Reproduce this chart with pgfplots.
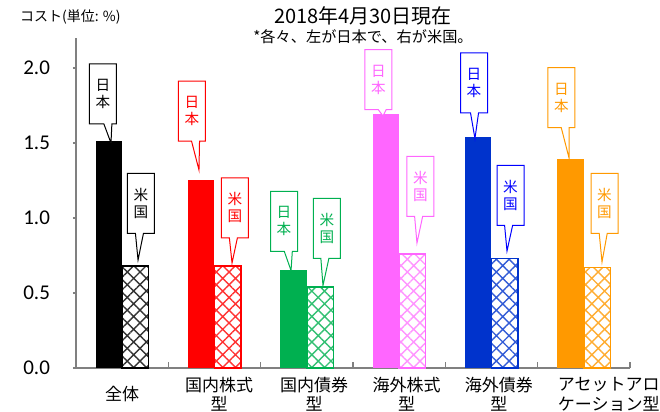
\documentclass[border=0pt]{standalone}
\usepackage{fontspec}
\setmainfont{Noto Sans CJK JP}
\newfontfamily\carlito{Carlito}
\usepackage{pgfplots}
\pgfplotsset{compat=1.18}
\usetikzlibrary{patterns.meta,shapes.callouts}
\definecolor{cgreen}{HTML}{00B050}
\definecolor{cpink}{HTML}{FF66FF}
\definecolor{cblue}{HTML}{0033CC}
\definecolor{cblueline}{HTML}{0000FF}
\definecolor{corange}{HTML}{FF9900}
\definecolor{axisgray}{HTML}{808080}
\newcommand{\cout}[6]{\node[rectangle callout, draw=#5, text=#5, fill=white, line width=0.5pt,
  minimum width=13.5pt, minimum height=30pt, inner sep=0pt, align=center,
  font=\fontsize{7.3}{8.5}\selectfont, callout pointer width=4pt,
  callout absolute pointer={(axis cs:#3,#4)}] at (axis cs:#1,#2) {#6};}
\begin{document}
\begin{tikzpicture}
\path[use as bounding box] (-38pt,-22pt) rectangle (292pt,184pt);
\begin{axis}[
  at={(0,0)}, anchor=south west,
  scale only axis, width=277pt, height=165pt,
  xmin=-0.5, xmax=5.5, ymin=0, ymax=2.2,
  axis x line=bottom, axis y line=left,
  axis line style={-, draw=axisgray, line width=0.75pt},
  ytick={0,0.5,1.0,1.5,2.0},
  yticklabel style={font=\fontsize{10.5}{12}\carlito, xshift=-8pt,
    /pgf/number format/.cd, fixed, fixed zerofill, precision=1, assume math mode=true},
  ytick align=outside,
  xtick align=inside,
  major tick length=1.5pt,
  minor tick length=3pt,
  tick style={draw=axisgray, line width=0.6pt},
  xtick={0,1.05,2.08,3.08,4.08,5.27},
  xticklabels={全体, 国内株式\\型, 国内債券\\型, 海外株式\\型, 海外債券\\型, アセットアロ\\ケーション型},
  major x tick style={draw=none},
  minor xtick={0.5,1.5,2.5,3.5,4.5,5.5},
  xticklabel style={anchor=center, yshift=-13.2pt, align=center, font=\fontsize{8.5}{9.6}\selectfont},
  clip=false,
]
% Japan bars
\addplot[ybar, bar width=13.25pt, bar shift=-6.625pt, fill=black, draw=none] coordinates {(0,1.51)};
\addplot[ybar, bar width=13.25pt, bar shift=-6.625pt, fill=red, draw=none] coordinates {(1,1.25)};
\addplot[ybar, bar width=13.25pt, bar shift=-6.625pt, fill=cgreen, draw=none] coordinates {(2,0.65)};
\addplot[ybar, bar width=13.25pt, bar shift=-6.625pt, fill=cpink, draw=none] coordinates {(3,1.69)};
\addplot[ybar, bar width=13.25pt, bar shift=-6.625pt, fill=cblue, draw=none] coordinates {(4,1.54)};
\addplot[ybar, bar width=13.25pt, bar shift=-6.625pt, fill=corange, draw=none] coordinates {(5,1.39)};
% US bars
\addplot[ybar, bar width=13.25pt, bar shift=6.625pt, draw=black, line width=0.7pt,
  pattern={Hatch[angle=45,distance=4.5pt,line width=0.7pt]}, pattern color=black!80] coordinates {(0,0.68)};
\addplot[ybar, bar width=13.25pt, bar shift=6.625pt, draw=red, line width=0.7pt,
  pattern={Hatch[angle=45,distance=4.5pt,line width=0.7pt]}, pattern color=red!80] coordinates {(1,0.68)};
\addplot[ybar, bar width=13.25pt, bar shift=6.625pt, draw=cgreen, line width=0.7pt,
  pattern={Hatch[angle=45,distance=4.5pt,line width=0.7pt]}, pattern color=cgreen!80] coordinates {(2,0.54)};
\addplot[ybar, bar width=13.25pt, bar shift=6.625pt, draw=cpink, line width=0.7pt,
  pattern={Hatch[angle=45,distance=4.5pt,line width=0.7pt]}, pattern color=cpink!70] coordinates {(3,0.76)};
\addplot[ybar, bar width=13.25pt, bar shift=6.625pt, draw=cblue, line width=0.7pt,
  pattern={Hatch[angle=45,distance=4.5pt,line width=0.7pt]}, pattern color=cblue!80] coordinates {(4,0.73)};
\addplot[ybar, bar width=13.25pt, bar shift=6.625pt, draw=corange, line width=0.7pt,
  pattern={Hatch[angle=45,distance=4.5pt,line width=0.7pt]}, pattern color=corange!80] coordinates {(5,0.67)};
% callouts
\cout{-0.208}{1.827}{-0.121}{1.50}{black}{日\\本}
\cout{0.204}{1.097}{0.172}{0.72}{black}{米\\国}
\cout{0.756}{1.713}{0.832}{1.32}{red}{日\\本}
\cout{1.222}{1.067}{1.190}{0.70}{red}{米\\国}
\cout{1.753}{0.977}{1.829}{0.65}{cgreen}{日\\本}
\cout{2.218}{0.930}{2.175}{0.55}{cgreen}{米\\国}
\cout{2.776}{1.923}{2.825}{1.68}{cpink}{日\\本}
\cout{3.231}{1.210}{3.193}{0.833}{cpink}{米\\国}
\cout{3.811}{1.900}{3.821}{1.53}{cblueline}{日\\本}
\cout{4.206}{1.150}{4.168}{0.78}{cblueline}{米\\国}
\cout{4.758}{1.803}{4.840}{1.40}{corange}{日\\本}
\cout{5.224}{1.097}{5.197}{0.707}{corange}{米\\国}
\end{axis}
\node[anchor=west, font=\fontsize{7}{8}\selectfont] at (-31.5pt,175.5pt) {コスト(単位: \%)};
\node[font=\fontsize{10}{11}\selectfont] at (143.5pt,175.8pt) {2018年4月30日現在};
\node[font=\fontsize{7.6}{9}\selectfont] at (143.5pt,165.5pt) {*各々、左が日本で、右が米国。};
\end{tikzpicture}
\end{document}
